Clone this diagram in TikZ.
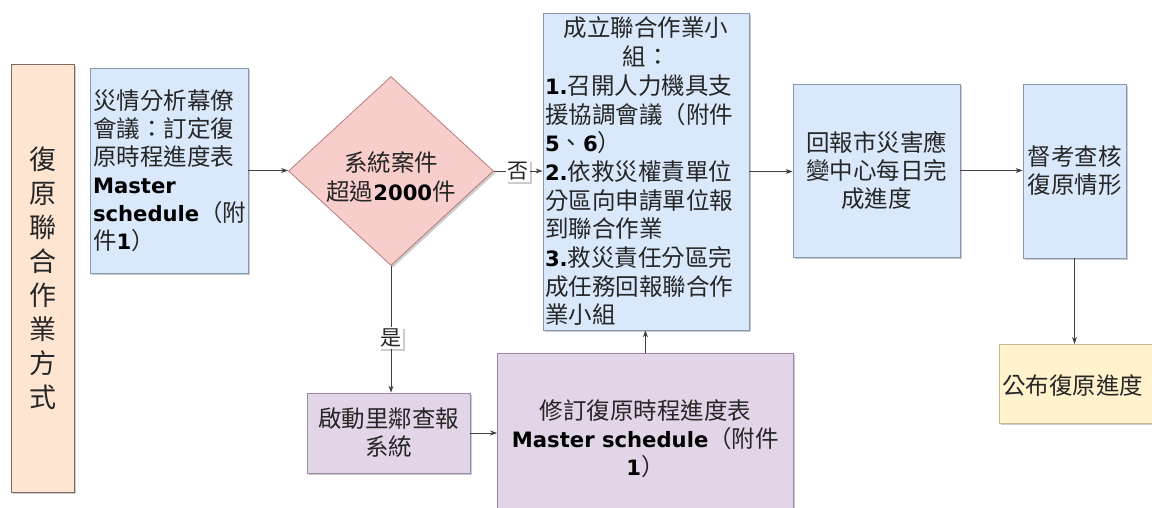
\documentclass[tikz,border=0pt]{standalone}
\usepackage{fontspec}
\setmainfont{Noto Sans CJK TC}
\newfontfamily\latf[Scale=0.9]{DejaVu Sans}
\newcommand\B[1]{{\latf\bfseries\color{black}#1}}
\newcommand\Blk[3][28pt]{\vbox{\hsize=#2\baselineskip=#1\lineskiplimit=-40pt\lineskip=0pt\relax #3}}
\newcommand\Lc[1]{\hbox to\hsize{\hfil#1\hfil}}
\newcommand\Ln[1]{\hbox to\hsize{#1\hfil}}
\usetikzlibrary{shapes.geometric,arrows.meta,shadows}
\definecolor{bluef}{HTML}{DAE8FC}
\definecolor{blued}{HTML}{8497B0}
\definecolor{pinkf}{HTML}{F8CECC}
\definecolor{pinkd}{HTML}{B87C7A}
\definecolor{purplef}{HTML}{E1D5E7}
\definecolor{purpled}{HTML}{9A88A6}
\definecolor{yellowf}{HTML}{FFF2CC}
\definecolor{yellowd}{HTML}{C8B98A}
\definecolor{peachf}{HTML}{FDE5D2}
\definecolor{peachd}{HTML}{7A6A64}
\definecolor{linec}{HTML}{404040}
\definecolor{txt}{HTML}{262626}
\begin{document}
\begin{tikzpicture}[x=1pt,y=-1pt,
  shad/.style={drop shadow={shadow xshift=2pt,shadow yshift=-2pt,fill=black,opacity=0.2}},
  box/.style={rectangle,draw=#1,line width=0.8pt,inner sep=0pt,text=txt,shad,
    font=\fontsize{23.5}{28}\selectfont},
  arr/.style={draw=linec,line width=0.8pt,-{Stealth[length=7pt,width=5pt]}},
  lab/.style={fill=white,inner sep=1.5pt,text=txt,font=\fontsize{21}{24}\selectfont,shad}]
\useasboundingbox[fill=white] (0,0) rectangle (1152,507);

% left title
\node[box=peachd,fill=peachf,minimum width=63pt,minimum height=428pt,
  font=\fontsize{27}{34}\selectfont] (left) at (42.5,278)
  {\Blk[34pt]{40pt}{\Lc{復}\Lc{原}\Lc{聯}\Lc{合}\Lc{作}\Lc{業}\Lc{方}\Lc{式}}};

% first box
\node[box=blued,fill=bluef,minimum width=158pt,minimum height=205pt] (b1) at (169,170.5)
  {\Blk{152pt}{\Ln{災情分析幕僚}\Ln{會議：訂定復}\Ln{原時程進度表}\Ln{\B{Master}}\Ln{\B{schedule}（附}\Ln{件\B{1}）}}};

% diamond
\node[diamond,draw=pinkd,fill=pinkf,line width=0.8pt,minimum width=205pt,minimum height=189pt,inner sep=0pt,shad] (dia) at (391,171) {};
\node[text=txt,font=\fontsize{23.5}{29}\selectfont,inner sep=0pt] (diat) at (391,177)
  {\Blk[29pt]{180pt}{\Lc{系統案件}\Lc{超過\B{2000}件}}};

% big box
\node[box=blued,fill=bluef,minimum width=206pt,minimum height=317pt,font=\fontsize{23.5}{28.7}\selectfont] (big) at (646,171.5)
  {\Blk[28.7pt]{202pt}{\Lc{成立聯合作業小}\Lc{組：}\Ln{\B{1.}召開人力機具支}\Ln{援協調會議（附件}\Ln{\B{5}、\B{6}）}\Ln{\B{2.}依救災權責單位}\Ln{分區向申請單位報}\Ln{到聯合作業}\Ln{\B{3.}救災責任分區完}\Ln{成任務回報聯合作}\Ln{業小組}}};

% report box
\node[box=blued,fill=bluef,minimum width=167pt,minimum height=173pt] (b3) at (876.5,170.5)
  {\Blk{160pt}{\Lc{回報市災害應}\Lc{變中心每日完}\Lc{成進度}}};

% supervise box
\node[box=blued,fill=bluef,minimum width=103pt,minimum height=174pt] (b4) at (1074.5,171)
  {\Blk{100pt}{\Lc{督考查核}\Lc{復原情形}}};

% publish box
\node[box=yellowd,fill=yellowf,minimum width=170pt,minimum height=79pt,anchor=north west] (b5) at (999,344) {};
\node[text=txt,font=\fontsize{23.5}{28}\selectfont,inner sep=0pt,anchor=west] (b5t) at ([xshift=3pt,yshift=-2pt]b5.west) {公布復原進度};

% village report box
\node[box=purpled,fill=purplef,minimum width=163pt,minimum height=80pt] (b6) at (388.5,433)
  {\Blk{160pt}{\Lc{啟動里鄰查報}\Lc{系統}}};

% revise box
\node[box=purpled,fill=purplef,minimum width=296pt,minimum height=170pt,anchor=north west] (b7) at (497,353)
  {\Blk{290pt}{\Lc{修訂復原時程進度表}\Lc{\B{Master schedule}（附件}\Lc{\B{1}）}}};

% connectors
\draw[arr] (b1.east) -- (b1.east -| dia.west);
\draw[arr] (dia.east) -- node[lab] (no) {否} (dia.east -| big.west);
\draw[arr] (dia.south) -- node[lab,pos=0.57] (yes) {是} (dia.south |- b6.north);
\draw[arr] (b6.east) -- (b6.east -| b7.west);
\draw[arr] (b7.north) -- (b7.north |- big.south);
\draw[arr] (big.east) -- (big.east -| b3.west);
\draw[arr] (b3.east) -- (b3.east -| b4.west);
\draw[arr] (b4.south) -- (b4.south |- b5.north);
\end{tikzpicture}
\end{document}
